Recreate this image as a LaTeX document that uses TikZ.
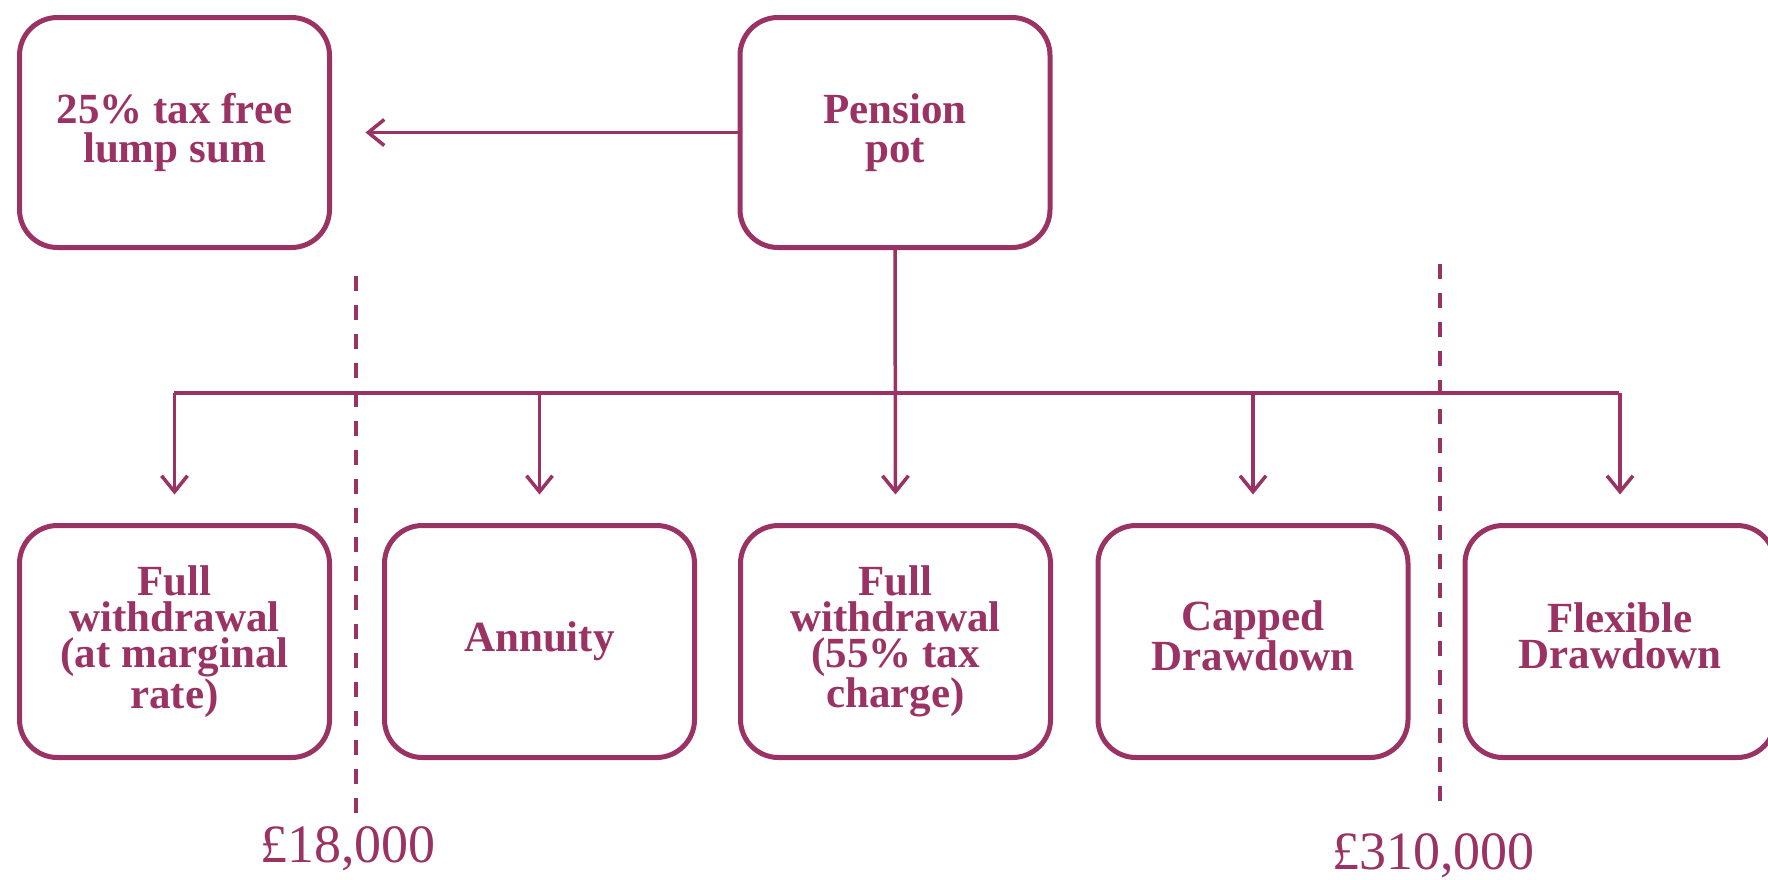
\documentclass[tikz,border=0pt]{standalone}
\usepackage{fontspec}
\setmainfont{Liberation Serif}
\usetikzlibrary{arrows.meta}
\definecolor{pc}{RGB}{155,50,100}
\tikzset{
  box/.style={draw=pc, line width=5pt, rounded corners=38pt, minimum width=310pt,
    minimum height=230pt, text=pc, align=center, inner sep=0pt,
    font=\bfseries\fontsize{43}{38.5}\selectfont},
  lowbox/.style={box, minimum height=232pt, font=\bfseries\fontsize{43}{36}\selectfont},
  conn/.style={draw=pc, line width=3.5pt},
  arr/.style={conn, -{Straight Barb[length=16pt,width=26pt]}},
  divider/.style={draw=pc, line width=4pt, dash pattern=on 15pt off 14pt},
  amount/.style={text=pc, font=\fontsize{54}{54}\selectfont, inner sep=0pt, anchor=base}
}
\begin{document}
\begin{tikzpicture}[x=1pt,y=-1pt]
\useasboundingbox (0,0) rectangle (1768,879);
\clip (0,0) rectangle (1768,879);
% top boxes
\node[box] (lump) at (174.5,132.5) {25\% tax free\\lump sum};
\node[box] (pot) at (895,132.5) {Pension\\pot};
% bottom boxes
\node[lowbox] (b1) at (174.5,641.5) {Full\\withdrawal\\(at marginal\\rate)};
\node[lowbox] (b2) at (539.5,641.5) {Annuity};
\node[lowbox] (b3) at (895.5,641.5) {Full\\withdrawal\\(55\% tax\\charge)};
\node[lowbox, text depth=12pt] (b4) at (1253,641.5) {Capped\\Drawdown};
\node[lowbox, text depth=12pt] (b5) at (1620,641.5) {Flexible\\Drawdown};
% connectors
\draw[arr] (pot.west) -- ([xshift=33.5pt]lump.east);
\coordinate (hl) at (174,393);
\coordinate (hr) at (1619,393);
\draw[conn] (hl) -- (hr);
\draw[arr] (pot.south) -- ([yshift=28.5pt]b3.north);
\foreach \b in {b1,b2,b4,b5}{
  \draw[arr] (\b.north |- hl) -- ([yshift=28.5pt]\b.north);
}
% dividers
\coordinate (d1t) at (356,276);
\coordinate (d1b) at (356,814);
\coordinate (d2t) at (1440,264);
\coordinate (d2b) at (1440,805);
\draw[divider] (d1t) -- (d1b);
\draw[divider] (d2t) -- (d2b);
% amounts
\node[amount] (a1) at (348,862) {£18,000};
\node[amount] (a2) at (1433.5,869) {£310,000};
\end{tikzpicture}
\end{document}
